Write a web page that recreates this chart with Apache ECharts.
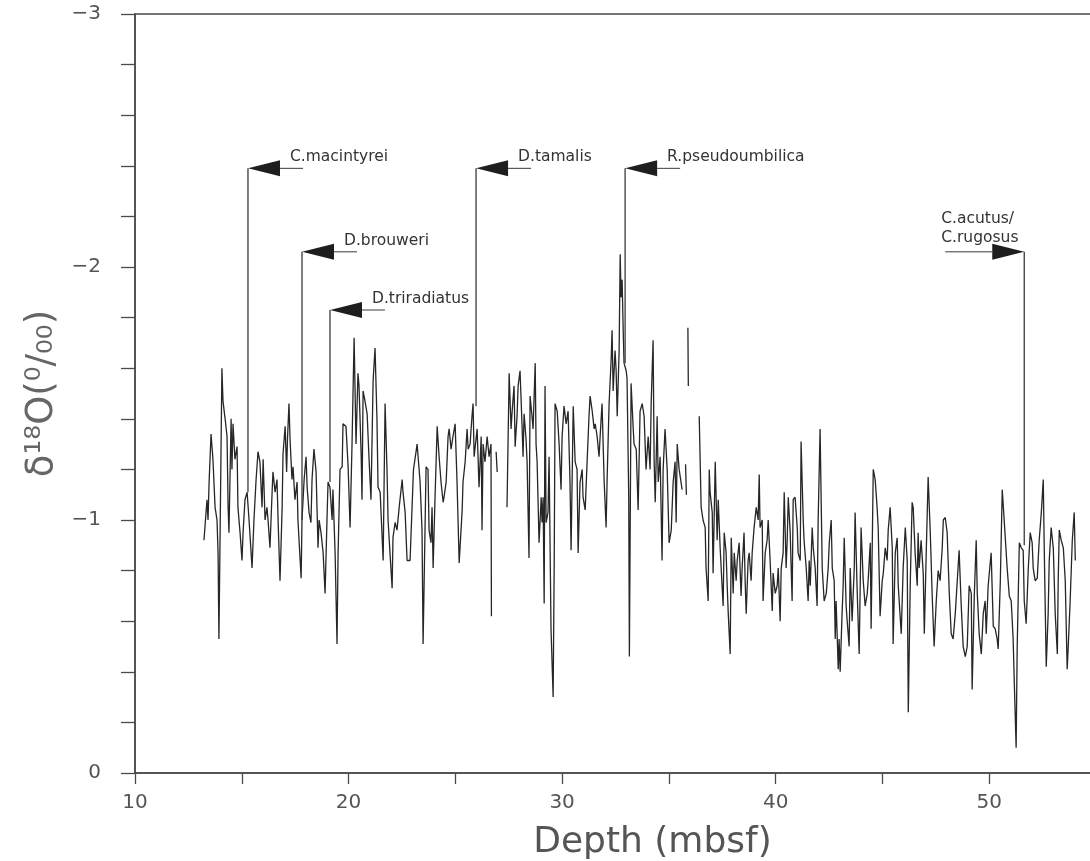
<!DOCTYPE html>
<html>
<head>
<meta charset="utf-8">
<title>Oxygen isotope record vs depth</title>
<script src="https://cdn.jsdelivr.net/npm/echarts@6/dist/echarts.min.js"></script>
<style>
  html, body { margin: 0; padding: 0; background: #fff; }
  #chart { width: 1090px; height: 861px; }
</style>
</head>
<body>
<div id="chart"></div>
<script>
// depth (mbsf), d18O (per mil); null marks a break in the record
const record = [
  [13.23,-0.92],[13.37,-1.08],[13.42,-1.0],[13.47,-1.15],[13.56,-1.34],[13.65,-1.24],[13.75,-1.05],[13.84,-1.0],[13.89,-0.87],[13.93,-0.53],
  [14.03,-1.29],[14.07,-1.6],[14.12,-1.47],[14.22,-1.4],[14.31,-1.33],[14.36,-1.05],[14.40,-0.95],[14.50,-1.4],[14.54,-1.2],[14.59,-1.38],
  [14.68,-1.24],[14.78,-1.29],[14.82,-1.05],[14.92,-0.95],[15.01,-0.84],[15.06,-0.95],[15.15,-1.08],[15.25,-1.11],[15.34,-1.0],[15.43,-0.88],
  [15.48,-0.81],[15.57,-1.0],[15.67,-1.16],[15.76,-1.27],[15.85,-1.23],[15.95,-1.05],[16.00,-1.24],[16.09,-1.0],[16.18,-1.05],[16.23,-1.0],
  [16.32,-0.89],[16.42,-1.11],[16.46,-1.19],[16.56,-1.11],[16.65,-1.16],[16.70,-1.0],[16.79,-0.76],[16.89,-1.05],[16.93,-1.26],[17.03,-1.37],
  [17.10,-1.19],[17.14,-1.32],[17.21,-1.46],[17.26,-1.32],[17.35,-1.16],[17.40,-1.21],[17.49,-1.08],[17.59,-1.15],[17.63,-1.0],[17.78,-0.77],
  [17.82,-1.0],[17.92,-1.16],[18.01,-1.25],[18.06,-1.13],[18.15,-1.03],[18.24,-0.99],[18.29,-1.16],[18.38,-1.28],[18.48,-1.19],[18.57,-0.89],
  [18.62,-1.0],[18.71,-0.95],[18.81,-0.87],[18.90,-0.71],[18.99,-1.0],[19.04,-1.15],[19.13,-1.13],[19.23,-1.0],[19.27,-1.12],[19.37,-0.87],
  [19.46,-0.51],[19.51,-0.87],[19.60,-1.2],[19.70,-1.21],[19.74,-1.38],[19.88,-1.37],[19.98,-1.21],[20.07,-0.97],[20.16,-1.29],[20.26,-1.72],
  [20.35,-1.3],[20.44,-1.58],[20.49,-1.53],[20.59,-1.26],[20.63,-1.08],[20.68,-1.51],[20.77,-1.47],[20.87,-1.42],[20.96,-1.24],[21.05,-1.08],
  [21.15,-1.55],[21.24,-1.68],[21.33,-1.4],[21.38,-1.13],[21.48,-1.11],[21.62,-0.84],[21.71,-1.46],[21.80,-1.2],[21.85,-1.0],[21.94,-0.87],
  [22.04,-0.73],[22.08,-0.93],[22.18,-0.99],[22.27,-0.96],[22.37,-1.05],[22.51,-1.16],[22.55,-1.11],[22.65,-1.03],[22.74,-0.84],[22.88,-0.84],
  [23.04,-1.2],[23.11,-1.24],[23.21,-1.3],[23.35,-1.15],[23.44,-0.96],[23.49,-0.51],[23.58,-0.96],[23.63,-1.21],[23.72,-1.2],[23.77,-0.96],
  [23.86,-0.91],[23.91,-1.05],[23.96,-0.81],[24.05,-1.09],[24.15,-1.37],[24.24,-1.25],[24.33,-1.15],[24.43,-1.07],[24.47,-1.09],[24.57,-1.15],
  [24.66,-1.33],[24.71,-1.36],[24.80,-1.28],[24.89,-1.33],[24.99,-1.38],[25.08,-1.15],[25.18,-0.83],[25.32,-1.04],[25.36,-1.15],[25.46,-1.23],
  [25.55,-1.36],[25.60,-1.28],[25.69,-1.3],[25.78,-1.41],[25.83,-1.46],[25.88,-1.25],[25.97,-1.32],[26.02,-1.36],[26.11,-1.13],[26.21,-1.33],
  [26.25,-0.96],[26.30,-1.3],[26.39,-1.23],[26.49,-1.33],[26.58,-1.25],[26.67,-1.3],[26.69,-0.62],[26.80,null],
  [26.91,-1.27],[26.96,-1.19],[27.20,null],
  [27.42,-1.05],[27.52,-1.58],[27.61,-1.36],[27.66,-1.43],[27.75,-1.53],[27.80,-1.29],[27.89,-1.41],[27.94,-1.53],[28.03,-1.59],[28.13,-1.36],
  [28.17,-1.25],[28.22,-1.42],[28.31,-1.32],[28.36,-1.23],[28.45,-0.85],[28.50,-1.49],[28.59,-1.41],[28.64,-1.36],[28.74,-1.62],[28.78,-1.3],
  [28.83,-1.23],[28.92,-0.91],[29.02,-1.09],[29.06,-0.99],[29.11,-1.09],[29.16,-0.67],[29.20,-1.53],[29.25,-0.99],[29.34,-1.03],[29.39,-1.25],
  [29.48,-0.57],[29.58,-0.3],[29.63,-0.83],[29.67,-1.46],[29.77,-1.43],[29.86,-1.3],[29.95,-1.12],[30.00,-1.33],[30.09,-1.45],[30.19,-1.38],
  [30.28,-1.43],[30.37,-1.15],[30.42,-0.88],[30.52,-1.45],[30.61,-1.23],[30.70,-1.2],[30.75,-0.87],[30.84,-1.15],[30.94,-1.2],[30.98,-1.09],
  [31.08,-1.04],[31.17,-1.23],[31.26,-1.41],[31.31,-1.49],[31.41,-1.43],[31.50,-1.36],[31.55,-1.38],[31.64,-1.33],[31.73,-1.25],[31.78,-1.33],
  [31.87,-1.46],[31.97,-1.15],[32.06,-0.97],[32.11,-1.17],[32.20,-1.46],[32.30,-1.64],[32.34,-1.75],[32.39,-1.51],[32.48,-1.67],[32.53,-1.59],
  [32.58,-1.41],[32.67,-1.67],[32.72,-2.05],[32.76,-1.88],[32.81,-1.95],[32.86,-1.75],[32.90,-1.62],[33.00,-1.59],[33.04,-1.56],[33.12,-1.09],
  [33.15,-0.46],[33.23,-1.54],[33.33,-1.36],[33.37,-1.3],[33.47,-1.28],[33.56,-1.04],[33.65,-1.43],[33.75,-1.46],[33.84,-1.41],[33.93,-1.2],
  [34.03,-1.33],[34.12,-1.2],[34.17,-1.46],[34.26,-1.71],[34.31,-1.23],[34.36,-1.07],[34.45,-1.41],[34.50,-1.15],[34.59,-1.25],[34.68,-0.84],
  [34.73,-1.2],[34.82,-1.36],[34.92,-1.2],[35.01,-0.91],[35.11,-0.96],[35.20,-1.15],[35.29,-1.23],[35.34,-0.99],[35.39,-1.3],[35.48,-1.2],
  [35.57,-1.2],[35.62,-1.12],[35.70,null],[35.78,-1.22],[35.82,-1.1],[35.85,null],[35.89,-1.76],[35.91,-1.53],[36.10,null],
  [36.42,-1.41],[36.51,-1.05],[36.60,-1.0],[36.70,-0.97],[36.74,-0.81],[36.84,-0.68],[36.89,-1.2],[36.93,-1.11],[37.03,-1.03],[37.07,-0.79],
  [37.17,-1.23],[37.26,-0.92],[37.31,-1.08],[37.40,-0.89],[37.49,-0.74],[37.54,-0.66],[37.59,-0.95],[37.68,-0.87],[37.73,-0.74],[37.78,-0.63],
  [37.87,-0.47],[37.92,-0.93],[38.01,-0.71],[38.06,-0.87],[38.15,-0.76],[38.20,-0.84],[38.29,-0.91],[38.38,-0.7],[38.43,-0.81],[38.52,-0.95],
  [38.57,-0.76],[38.62,-0.63],[38.71,-0.84],[38.76,-0.87],[38.85,-0.76],[38.90,-0.87],[38.99,-0.97],[39.09,-1.05],[39.18,-1.0],[39.23,-1.18],
  [39.27,-0.97],[39.37,-1.0],[39.41,-0.68],[39.51,-0.87],[39.60,-0.92],[39.65,-1.0],[39.74,-0.84],[39.84,-0.64],[39.88,-0.79],[39.98,-0.71],
  [40.07,-0.74],[40.12,-0.81],[40.21,-0.6],[40.26,-0.81],[40.35,-0.87],[40.40,-1.11],[40.49,-0.81],[40.54,-0.92],[40.59,-1.09],[40.68,-0.95],
  [40.77,-0.68],[40.82,-1.08],[40.91,-1.09],[41.01,-0.97],[41.05,-0.87],[41.15,-0.84],[41.19,-1.31],[41.29,-1.0],[41.33,-0.92],[41.43,-0.81],
  [41.52,-0.68],[41.57,-0.84],[41.62,-0.74],[41.71,-0.97],[41.76,-0.89],[41.85,-0.81],[41.94,-0.66],[41.99,-1.0],[42.08,-1.36],[42.13,-1.08],
  [42.18,-0.81],[42.27,-0.68],[42.37,-0.71],[42.46,-0.81],[42.51,-0.91],[42.60,-1.0],[42.65,-0.81],[42.74,-0.76],[42.79,-0.53],[42.83,-0.68],
  [42.93,-0.41],[42.97,-0.53],[43.02,-0.4],[43.11,-0.63],[43.16,-0.74],[43.21,-0.93],[43.30,-0.66],[43.35,-0.6],[43.44,-0.5],[43.49,-0.81],
  [43.58,-0.6],[43.68,-0.81],[43.72,-1.03],[43.82,-0.71],[43.91,-0.47],[44.00,-0.97],[44.10,-0.76],[44.19,-0.66],[44.29,-0.71],[44.33,-0.76],
  [44.43,-0.91],[44.47,-0.57],[44.57,-1.2],[44.66,-1.16],[44.75,-1.05],[44.80,-0.97],[44.89,-0.62],[44.99,-0.76],[45.04,-0.79],[45.13,-0.89],
  [45.22,-0.84],[45.27,-0.96],[45.36,-1.05],[45.46,-0.89],[45.50,-0.51],[45.60,-0.87],[45.69,-0.93],[45.74,-0.74],[45.88,-0.55],[45.97,-0.81],
  [46.07,-0.97],[46.16,-0.84],[46.21,-0.24],[46.30,-0.74],[46.39,-1.07],[46.44,-1.05],[46.53,-0.87],[46.63,-0.74],[46.67,-0.95],[46.72,-0.81],
  [46.81,-0.92],[46.91,-0.79],[46.96,-0.55],[47.05,-0.87],[47.14,-1.17],[47.24,-0.95],[47.33,-0.7],[47.42,-0.5],[47.52,-0.68],[47.61,-0.8],
  [47.70,-0.76],[47.80,-0.89],[47.85,-1.0],[47.94,-1.01],[48.03,-0.95],[48.13,-0.71],[48.22,-0.55],[48.31,-0.53],[48.41,-0.63],[48.50,-0.63],
  [48.59,-0.88],[48.69,-0.66],[48.78,-0.5],[48.88,-0.46],[48.97,-0.5],[49.06,-0.74],[49.16,-0.71],[49.20,-0.33],[49.30,-0.7],[49.39,-0.92],
  [49.44,-0.71],[49.53,-0.55],[49.63,-0.47],[49.72,-0.63],[49.81,-0.68],[49.86,-0.55],[49.95,-0.74],[50.09,-0.87],[50.19,-0.58],[50.28,-0.57],
  [50.37,-0.53],[50.42,-0.49],[50.52,-0.76],[50.61,-1.12],[50.70,-1.0],[50.84,-0.81],[50.94,-0.7],[51.03,-0.68],[51.12,-0.53],[51.17,-0.37],
  [51.26,-0.1],[51.31,-0.5],[51.41,-0.91],[51.50,-0.89],[51.59,-0.88],[51.64,-0.68],[51.73,-0.59],[51.83,-0.81],[51.92,-0.95],[52.01,-0.91],
  [52.06,-0.81],[52.15,-0.76],[52.25,-0.77],[52.34,-0.92],[52.44,-1.03],[52.53,-1.16],[52.58,-0.87],[52.67,-0.42],[52.76,-0.63],[52.81,-0.84],
  [52.90,-0.97],[53.00,-0.89],[53.09,-0.63],[53.19,-0.47],[53.23,-0.76],[53.28,-0.96],[53.37,-0.92],[53.47,-0.89],[53.56,-0.76],[53.65,-0.41],
  [53.70,-0.5],[53.79,-0.68],[53.89,-0.92],[53.98,-1.03],[54.03,-0.84]
];

// nannofossil datums: depth of the datum, top of the pointer, where it meets the curve
const markerName = ["C.macintyrei", "D.brouweri", "D.triradiatus", "D.tamalis", "R.pseudoumbilica", "C.acutus/\nC.rugosus"];
const markerDepth = [15.29, 17.82, 19.13, 25.97, 32.95, 51.64];
const markerTop = [-2.39, -2.06, -1.83, -2.39, -2.39, -2.06];
const markerBase = [-1.11, -1.0, -1.15, -1.45, -1.62, -0.9];
const markerSide = ["left", "left", "left", "left", "left", "right"];

const FONT = "DejaVu Sans";
const INK = "#262626";

function renderMarker(params, api) {
  let i = params.dataIndex,
    top = api.coord([api.value(0), api.value(1)]),
    base = api.coord([api.value(0), api.value(2)]),
    s = markerSide[i] == "right" ? -1 : 1,
    x = top[0],
    y = top[1];
  let text;
  if (s > 0) {
    text = { type: "text", x: x + 42, y: y - 3,
      style: { text: markerName[i], fill: "#333", font: "15.5px " + FONT, align: "left", verticalAlign: "bottom" } };
  } else {
    text = { type: "text", x: x - 83, y: y - 4,
      style: { text: markerName[i], fill: "#333", font: "15.5px " + FONT, align: "left", verticalAlign: "bottom", lineHeight: 19 } };
  }
  return {
    type: "group",
    children: [
      { type: "line", shape: { x1: x, y1: y, x2: base[0], y2: base[1] }, style: { stroke: "#3a3a3a", lineWidth: 1.3 } },
      { type: "polygon", shape: { points: [[x, y], [x + s * 32, y - 8], [x + s * 32, y + 8]] }, style: { fill: "#1e1e1e" } },
      { type: "line", shape: { x1: x + s * 32, y1: y, x2: x + s * (s > 0 ? 55 : 79), y2: y }, style: { stroke: "#3a3a3a", lineWidth: 1 } },
      text
    ]
  };
}

let myChart = echarts.init(document.getElementById("chart"));
let option = {
  animation: false,
  backgroundColor: "#fff",
  grid: {
    left: 135, right: -6, top: 14, bottom: 88,
    outerBoundsMode: "none",
    show: true, borderColor: "#4a4a4a", borderWidth: 1.5
  },
  xAxis: {
    type: "value",
    min: 10,
    max: 55,
    interval: 5,
    name: "Depth (mbsf)",
    nameLocation: "middle",
    nameGap: 52,
    nameTextStyle: { fontFamily: FONT, fontSize: 36, color: "#555", padding: [0, 0, 0, 74] },
    axisLine: { lineStyle: { color: "#4a4a4a", width: 1.5 } },
    axisTick: { length: 11, lineStyle: { color: "#4a4a4a", width: 1.3 } },
    axisLabel: {
      margin: 20,
      fontFamily: FONT,
      fontSize: 20,
      color: "#555",
      formatter: function (v) {
        return v % 10 === 0 ? String(v) : "";
      }
    },
    splitLine: { show: false }
  },
  yAxis: {
    type: "value",
    inverse: true,
    min: -3,
    max: 0,
    interval: 0.2,
    name: "δ¹⁸O(⁰/₀₀)",
    nameLocation: "middle",
    nameGap: 74,
    nameTextStyle: { fontFamily: FONT, fontSize: 37, color: "#666" },
    axisLine: { lineStyle: { color: "#4a4a4a", width: 1.5 } },
    axisTick: { length: 14, lineStyle: { color: "#4a4a4a", width: 1.3 } },
    axisLabel: {
      margin: 34,
      fontFamily: FONT,
      fontSize: 20,
      color: "#555",
      formatter: function (v) {
        let r = Math.round(v);
        if (Math.abs(v - r) > 1e-6) return "";
        return r === 0 ? "0" : "\u2212" + Math.abs(r);
      }
    },
    splitLine: { show: false }
  },
  series: [
    {
      type: "line",
      data: record.map(function (p) {
        return [p[0], p[1] === null ? "-" : p[1]];
      }),
      showSymbol: false,
      symbol: "none",
      connectNulls: false,
      lineStyle: { color: INK, width: 1.3 },
      z: 2
    },
    {
      type: "custom",
      renderItem: renderMarker,
      clip: false,
      data: markerDepth.map(function (d, i) {
        return [d, markerTop[i], markerBase[i]];
      }),
      z: 3
    }
  ]
};

if (option && typeof option === "object") myChart.setOption(option);
</script>
</body>
</html>
